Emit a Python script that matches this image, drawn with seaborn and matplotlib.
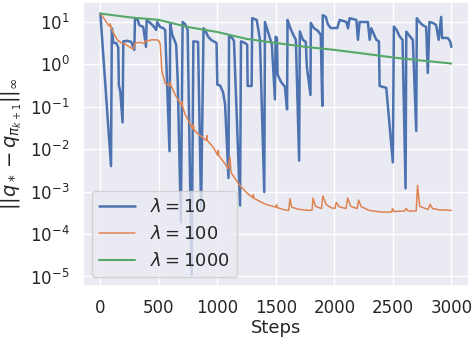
import matplotlib
matplotlib.use("Agg")
import matplotlib.pyplot as plt
import seaborn as sns

# values
steps_10 = [0, 20, 47, 70, 91, 98, 111, 136, 153, 158, 170, 190, 196, 230, 264, 290,
            296, 320, 332, 367, 390, 396, 426, 452, 477, 486, 511, 537, 554, 591, 597,
            614, 639, 648, 661, 688, 703, 725, 746, 780, 795, 835, 861, 882, 895, 921,
            946, 993, 1000, 1023, 1049, 1066, 1095, 1100, 1125, 1142, 1194, 1202, 1236,
            1255, 1259, 1293, 1298, 1336, 1351, 1364, 1401, 1407, 1428, 1449, 1466, 1492,
            1498, 1509, 1515, 1543, 1577, 1596, 1600, 1620, 1637, 1654, 1671, 1699, 1705,
            1731, 1756, 1765, 1796, 1799, 1824, 1859, 1884, 1897, 1901, 1927, 1944, 1969,
            2025, 2046, 2103, 2117, 2131, 2188, 2202, 2216, 2287, 2302, 2316, 2359, 2381,
            2387, 2444, 2500, 2509, 2532, 2558, 2583, 2609, 2615, 2643, 2671, 2700, 2705,
            2728, 2754, 2785, 2799, 2813, 2842, 2870, 2892, 2913, 2921, 2969, 2990, 3000]
vals_10 = [15.8, 2.6, 0.22, 0.028, 0.004, 7.1, 3.2, 3.2, 2.5, 0.32, 0.23, 0.043, 3.5, 3.6, 3.4, 2.2,
           12.3, 11.2, 8.5, 7.6, 2.6, 11.2, 9.5, 8.1, 6.5, 10, 7.6, 7.2, 6.5, 0.009, 9.3,
           5.0, 3.4, 2.9, 0.44, 1.9e-4, 10, 8.9, 6.5, 1.1e-5, 3.5, 3.4, 4e-4, 7.1, 6.5, 4.5,
           3.8, 3.2, 0.33, 0.32, 0.22, 0.115, 0.0021, 4.6, 4.3, 3.6, 4.7e-4, 3.5, 3.2,
           2.9, 0.31, 0.31, 12.3, 11.2, 6.5, 3.8, 9.8e-4, 10, 6.5, 4.2, 2.9, 0.15,
           4.5, 4.2, 0.58, 0.39, 0.30, 0.087, 11.2, 7.6, 5.9, 4.7, 3.8, 0.0054, 6.0,
           3.8, 3.4, 0.89, 0.19, 9.5, 7.2, 6.2, 5.0, 0.105, 14.5, 13.2, 8.9, 7.2,
           7.2, 11.2, 10, 7.1, 12.3, 11.2, 3.8, 10, 10, 3.8, 7.1, 3.8, 3.5,
           0.31, 0.28, 0.0049, 7.8, 6.5, 4.6, 3.8, 0.0012, 5.9, 4.7, 3.8, 0.027, 12.3,
           10, 8.5, 7.6, 0.63, 10, 9.5, 8.5, 3.8, 13.2, 4.2, 4.2, 3.5, 2.6]

steps_100 = [0, 26, 51, 77, 85, 94, 119, 145, 179, 213, 247, 281, 298, 341, 375, 384, 401,
             443, 486, 503, 512, 526, 554, 590, 597, 605, 639, 690, 696, 703, 725, 790,
             795, 800, 824, 905, 910, 915, 966, 1003, 1008, 1013, 1066, 1091, 1108, 1117,
             1194, 1253, 1302, 1307, 1312, 1407, 1500, 1506, 1512, 1577, 1610, 1620, 1635,
             1700, 1790, 1810, 1818, 1840, 1890, 1902, 1930, 1970, 2005, 2017, 2040, 2100,
             2114, 2140, 2195, 2208, 2230, 2300, 2400, 2490, 2497, 2510, 2600, 2614, 2630,
             2700, 2711, 2730, 2800, 2819, 2840, 2900, 2950, 3000]
vals_100 = [15.8, 12.6, 10, 7.9, 9.1, 7.1, 5.0, 3.8, 3.2, 3.0, 2.6, 2.3, 3.2, 3.3, 3.1, 3.6, 3.6,
            3.8, 3.8, 3.5, 2.9, 0.69, 0.36, 0.31, 0.38, 0.31, 0.195, 0.11, 0.135, 0.10, 0.066, 0.030,
            0.038, 0.029, 0.0245, 0.016, 0.021, 0.016, 0.011, 0.0072, 0.0095, 0.0070, 0.0045, 0.0035,
            0.0065, 0.0028, 0.00138, 0.00093, 0.00072, 0.00085, 0.00070, 0.00051, 0.00043, 0.00049,
            0.00042, 0.00037, 0.00036, 0.00068, 0.00043, 0.00038, 0.00036, 0.00037, 0.00070, 0.00045,
            0.00040, 0.00079, 0.00050, 0.00042, 0.00040, 0.00056, 0.00044, 0.00040, 0.00071, 0.00045,
            0.00040, 0.00063, 0.00044, 0.00036, 0.00033, 0.00033, 0.00040, 0.00034, 0.00035, 0.00040,
            0.00035, 0.00035, 0.0014, 0.00045, 0.00038, 0.00050, 0.00040, 0.00037, 0.00037, 0.00036]

steps_1000 = [0, 250, 500, 750, 1000, 1250, 1500, 1750, 2000, 2250, 2500, 2750, 3000]
vals_1000 = [15.8, 12.9, 11.2, 7.6, 5.8, 4.0, 3.2, 2.6, 2.2, 1.8, 1.46, 1.23, 1.05]

sns.set_theme(style="darkgrid")
pal = sns.color_palette("deep")

fig, ax = plt.subplots(figsize=(4.76, 3.44), dpi=100)
sns.lineplot(x=steps_10, y=vals_10, ax=ax, color=pal[0], lw=1.8,
             label=r"$\lambda = 10$", estimator=None, sort=False)
sns.lineplot(x=steps_100, y=vals_100, ax=ax, color=pal[1], lw=1.1,
             label=r"$\lambda = 100$", estimator=None, sort=False)
sns.lineplot(x=steps_1000, y=vals_1000, ax=ax, color=pal[2], lw=1.5,
             label=r"$\lambda = 1000$", estimator=None, sort=False)

ax.set_yscale("log")
ax.set_ylim(10 ** -5.23, 10 ** 1.47)
ax.set_xlim(-150, 3150)
ax.set_xticks([0, 500, 1000, 1500, 2000, 2500, 3000])
ax.tick_params(labelsize=12)
ax.set_xlabel("Steps", fontsize=13, labelpad=1)
ax.set_ylabel(r"$||q_* - q_{\pi_{k+1}}||_\infty$", fontsize=14)
ax.legend(loc="lower left", fontsize=13)

fig.subplots_adjust(left=0.174, right=0.985, bottom=0.168, top=0.994)
fig.savefig("out.png", dpi=100)
